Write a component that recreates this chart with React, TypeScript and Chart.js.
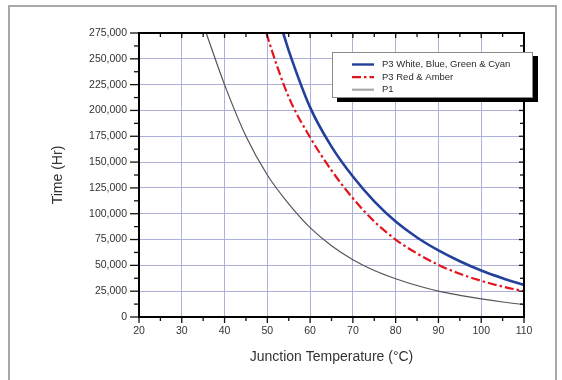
import React, { useEffect, useRef } from 'react';
import { Chart, registerables } from 'chart.js';

Chart.register(...registerables);

// ---- data ----
const blueTemps = [53.7, 55, 60, 65, 70, 75, 80, 85, 90, 95, 100, 105, 110];
const blueHours = [275000, 258000, 203000, 165000, 136000, 112000, 92500, 77000, 64500, 54000, 45000, 37500, 31000];

const redTemps = [49.8, 50, 55, 60, 65, 70, 75, 80, 85, 90, 95, 100, 105, 110];
const redHours = [275000, 272000, 213000, 174000, 142000, 115000, 92500, 75000, 61500, 50500, 41800, 35000, 29500, 25000];

const p1Temps = [35.7, 40, 45, 50, 55, 60, 65, 70, 75, 80, 85, 90, 95, 100, 105, 110];
const p1Hours = [275000, 225000, 175000, 137500, 109500, 86500, 69000, 55500, 45000, 37000, 30500, 25000, 21000, 17500, 14500, 12000];

const seriesLabels = ['P3 White, Blue, Green & Cyan', 'P3 Red & Amber', 'P1'];

const xMin = 20;
const xMax = 110;
const xMajorStep = 10;
const xMinorStep = 5;
const yMin = 0;
const yMax = 275000;
const yMajorStep = 25000;
const yMinorStep = 12500;

const xTitle = 'Junction Temperature (°C)';
const yTitle = 'Time (Hr)';

const toPoints = (xs: number[], ys: number[]) => xs.map((x, i) => ({ x, y: ys[i] }));

const FONT = "'Liberation Sans', Arial, sans-serif";

const frameTicksLegend = {
  id: 'frameTicksLegend',
  afterDatasetsDraw(chart: any) {
    const { ctx, chartArea: a, scales } = chart;
    const xs = scales.x;
    const ys = scales.y;
    ctx.save();
    ctx.strokeStyle = '#111';
    ctx.lineWidth = 1.3;
    const seg = (x1: number, y1: number, x2: number, y2: number) => {
      ctx.beginPath();
      ctx.moveTo(x1, y1);
      ctx.lineTo(x2, y2);
      ctx.stroke();
    };
    for (let v = xMin; v <= xMax + 1e-6; v += xMinorStep) {
      const px = xs.getPixelForValue(v);
      const major = Math.abs(v % xMajorStep) < 1e-6;
      seg(px, a.bottom, px, a.bottom + (major ? 6 : 4));
      seg(px, a.top, px, a.top + (major ? 5 : 4));
    }
    for (let v = yMin; v <= yMax + 1e-6; v += yMinorStep) {
      const py = ys.getPixelForValue(v);
      const major = Math.abs(v % yMajorStep) < 1e-6;
      seg(a.left - (major ? 9 : 5), py, a.left, py);
      seg(a.right - (major ? 5 : 4), py, a.right, py);
    }
    ctx.lineWidth = 2;
    ctx.strokeStyle = '#000';
    ctx.strokeRect(a.left, a.top, a.right - a.left, a.bottom - a.top);

    // legend box with drop shadow
    const lx = a.right - 192;
    const ly = a.top + 19;
    const lw = 201;
    const lh = 46;
    ctx.fillStyle = '#000';
    ctx.fillRect(lx + 5, ly + 4, lw, lh);
    ctx.fillStyle = '#fff';
    ctx.fillRect(lx, ly, lw, lh);
    ctx.strokeStyle = '#8a8a8a';
    ctx.lineWidth = 1;
    ctx.strokeRect(lx + 0.5, ly + 0.5, lw - 1, lh - 1);

    ctx.font = `9.5px ${FONT}`;
    ctx.textBaseline = 'middle';
    ctx.textAlign = 'left';
    chart.data.datasets.forEach((ds: any, i: number) => {
      const ry = ly + 12.5 + i * 12.6;
      ctx.strokeStyle = ds.legendColor || ds.borderColor;
      ctx.lineWidth = ds.legendWidth || ds.borderWidth;
      ctx.setLineDash(ds.legendDash || []);
      seg(lx + 20, ry, lx + 42, ry);
      ctx.setLineDash([]);
      ctx.fillStyle = '#2a2a2a';
      ctx.fillText(ds.label, lx + 50, ry);
    });
    ctx.restore();
  },
};

export default function App() {
  const ref = useRef<HTMLCanvasElement | null>(null);

  useEffect(() => {
    if (!ref.current) return;
    const chart = new Chart(ref.current, {
      type: 'line',
      data: {
        datasets: [
          {
            label: seriesLabels[0],
            data: toPoints(blueTemps, blueHours),
            borderColor: '#22409c',
            borderWidth: 2.6,
            pointRadius: 0,
            cubicInterpolationMode: 'monotone',
            legendColor: '#22409c',
            legendWidth: 2.4,
          } as any,
          {
            label: seriesLabels[1],
            data: toPoints(redTemps, redHours),
            borderColor: '#e3151c',
            borderWidth: 2.2,
            borderDash: [9, 3, 2.5, 3],
            pointRadius: 0,
            cubicInterpolationMode: 'monotone',
            legendColor: '#e3151c',
            legendWidth: 2.2,
            legendDash: [9, 3, 2.5, 3],
          } as any,
          {
            label: seriesLabels[2],
            data: toPoints(p1Temps, p1Hours),
            borderColor: '#555555',
            borderWidth: 1.2,
            pointRadius: 0,
            cubicInterpolationMode: 'monotone',
            legendColor: '#a8a8a8',
            legendWidth: 2.2,
          } as any,
        ],
      },
      options: {
        animation: false,
        responsive: false,
        devicePixelRatio: 1,
        layout: { padding: { top: 33, right: 38, left: 0, bottom: 0 } },
        plugins: {
          legend: { display: false },
          tooltip: { enabled: false },
        },
        scales: {
          x: {
            type: 'linear',
            min: xMin,
            max: xMax,
            afterFit: (s: any) => {
              s.height = 63;
            },
            ticks: {
              stepSize: xMajorStep,
              padding: 8,
              color: '#333',
              font: { family: FONT, size: 10.5 },
              maxRotation: 0,
              autoSkip: false,
            },
            grid: { color: '#aeb0dc', lineWidth: 1, drawTicks: false },
            border: { display: false },
            title: {
              display: true,
              text: xTitle,
              color: '#333',
              font: { family: FONT, size: 14 },
              padding: { top: 0, bottom: 14 },
            },
          },
          y: {
            type: 'linear',
            min: yMin,
            max: yMax,
            afterFit: (s: any) => {
              s.width = 139;
            },
            ticks: {
              stepSize: yMajorStep,
              padding: 12,
              color: '#333',
              font: { family: FONT, size: 10.5 },
              autoSkip: false,
              callback: (v: any) => Number(v).toLocaleString('en-US'),
            },
            grid: { color: '#aeb0dc', lineWidth: 1, drawTicks: false },
            border: { display: false },
            title: {
              display: true,
              text: yTitle,
              color: '#333',
              font: { family: FONT, size: 14 },
              padding: { top: 50, bottom: 0 },
            },
          },
        },
      } as any,
      plugins: [frameTicksLegend],
    });
    return () => chart.destroy();
  }, []);

  return (
    <div style={{ position: 'absolute', left: 0, top: 0, width: 562, height: 380, overflow: 'hidden', background: '#fff' }}>
      <div
        style={{
          position: 'absolute',
          left: 8,
          top: 5,
          width: 549,
          height: 400,
          border: '2px solid #a8a8a8',
          boxSizing: 'border-box',
        }}
      />
      <canvas ref={ref} width={562} height={380} style={{ position: 'absolute', left: 0, top: 0, display: 'block' }} />
    </div>
  );
}
